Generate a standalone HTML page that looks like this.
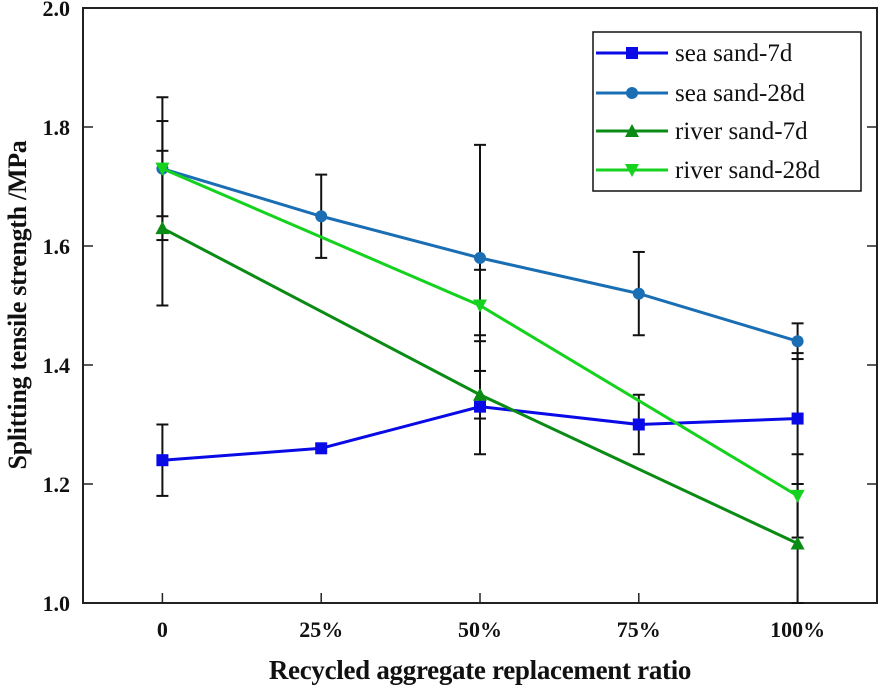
<!DOCTYPE html>
<html><head><meta charset="utf-8"><style>
body{margin:0;background:#fff;}
svg{display:block;font-family:"Liberation Serif",serif;}
</style></head><body>
<svg id="chart" width="880" height="689" xmlns="http://www.w3.org/2000/svg"></svg>
<script>
const categories = ["0","25%","50%","75%","100%"];
const yTicks = [1.0,1.2,1.4,1.6,1.8,2.0];
const seaSand7d = [1.24,1.26,1.33,1.30,1.31];
const seaSand7dErrLo = [1.18,null,1.25,1.25,1.20];
const seaSand7dErrHi = [1.30,null,1.45,1.35,1.42];
const seaSand28d = [1.73,1.65,1.58,1.52,1.44];
const seaSand28dErrLo = [1.61,1.58,1.39,1.45,1.41];
const seaSand28dErrHi = [1.85,1.72,1.77,1.59,1.47];
const riverSand7d = [1.63,null,1.35,null,1.10];
const riverSand7dErrLo = [1.50,null,1.31,null,1.00];
const riverSand7dErrHi = [1.76,null,1.39,null,1.20];
const riverSand28d = [1.73,null,1.50,null,1.18];
const riverSand28dErrLo = [1.65,null,1.44,null,1.11];
const riverSand28dErrHi = [1.81,null,1.56,null,1.25];

const NS="http://www.w3.org/2000/svg";
const svg=document.getElementById('chart');
const L=83,R=877,T=8,B=603;
const xs=i=>L+(i+0.5)*(R-L)/5;
const ys=v=>B-(v-1.0)*(B-T)/1.0;
function mk(t,a,p){const e=document.createElementNS(NS,t);for(const k in a)e.setAttribute(k,a[k]);(p||svg).appendChild(e);return e;}

const frame=mk('rect',{x:L,y:T,width:R-L,height:B-T,fill:'none',stroke:'#222','stroke-width':2});



categories.forEach((c,i)=>{
  const x=xs(i);
  const tk=mk('line',{x1:x,x2:x,y1:B,y2:B-10,stroke:'#222','stroke-width':1.5});
  
  
  const t=mk('text',{x:x,y:B+34,'text-anchor':'middle','font-size':22,'font-weight':'bold',fill:'#111'});
  t.textContent=c;
  
  
});
yTicks.forEach(v=>{
  const y=ys(v);
  const tk=mk('line',{x1:L,x2:L+10,y1:y,y2:y,stroke:'#222','stroke-width':1.5});
  
  
  const tk2=mk('line',{x1:R,x2:R-10,y1:y,y2:y,stroke:'#222','stroke-width':1.5});
  
  
  const t=mk('text',{x:L-13,y:y+8,'text-anchor':'end','font-size':22,'font-weight':'bold',fill:'#111'});
  t.textContent=v.toFixed(1);
  
  
});
const xt=mk('text',{x:(L+R)/2,y:679,'text-anchor':'middle','font-size':27,'font-weight':'bold',fill:'#111','letter-spacing':'-0.3'});
xt.textContent='Recycled aggregate replacement ratio';


const yt=mk('text',{x:0,y:0,transform:'translate(26,305) rotate(-90)','text-anchor':'middle','font-size':26,'font-weight':'bold',fill:'#111','letter-spacing':'-0.3'});
yt.textContent='Splitting tensile strength /MPa';



function marker(type,x,y,color,g){
  let e;
  if(type==='square') e=mk('rect',{x:x-6,y:y-6,width:12,height:12,fill:color},g);
  else if(type==='circle') e=mk('circle',{cx:x,cy:y,r:6,fill:color},g);
  else if(type==='up') e=mk('polygon',{points:`${x},${y-7} ${x-7},${y+6} ${x+7},${y+6}`,fill:color},g);
  else e=mk('polygon',{points:`${x},${y+7} ${x-7},${y-6} ${x+7},${y-6}`,fill:color},g);
  
  
}
const series=[
 {name:'sea-sand-7d',label:'sea sand-7d',vals:seaSand7d,lo:seaSand7dErrLo,hi:seaSand7dErrHi,color:'#0a0ae6',m:'square'},
 {name:'sea-sand-28d',label:'sea sand-28d',vals:seaSand28d,lo:seaSand28dErrLo,hi:seaSand28dErrHi,color:'#1a6eb4',m:'circle'},
 {name:'river-sand-7d',label:'river sand-7d',vals:riverSand7d,lo:riverSand7dErrLo,hi:riverSand7dErrHi,color:'#0a8c14',m:'up'},
 {name:'river-sand-28d',label:'river sand-28d',vals:riverSand28d,lo:riverSand28dErrLo,hi:riverSand28dErrHi,color:'#14d21e',m:'down'}
];
series.forEach(s=>{
  s.lo.forEach((lo,i)=>{
    if(lo==null)return;
    const x=xs(i),y1=ys(lo),y2=ys(s.hi[i]);
    const g=mk('g',{stroke:'#111','stroke-width':2});
    
    
    mk('line',{x1:x,x2:x,y1:y1,y2:y2},g);
    mk('line',{x1:x-6,x2:x+6,y1:y1,y2:y1},g);
    mk('line',{x1:x-6,x2:x+6,y1:y2,y2:y2},g);
  });
});
series.forEach(s=>{
  const g=mk('g',{});
  
  
  const pts=[];
  s.vals.forEach((v,i)=>{if(v!=null)pts.push([xs(i),ys(v)]);});
  const pl=mk('polyline',{points:pts.map(p=>p.join(',')).join(' '),fill:'none',stroke:s.color,'stroke-width':3},g);
  
  
  pts.forEach(p=>marker(s.m,p[0],p[1],s.color,g));
});
const lg=mk('g',{});


mk('rect',{x:593,y:32,width:268,height:159,fill:'#fff',stroke:'#111','stroke-width':1.5},lg);
[53,93,131,170].forEach((y,i)=>{
  const s=series[i];
  const e=mk('g',{},lg);
  
  
  mk('line',{x1:596,x2:668,y1:y,y2:y,stroke:s.color,'stroke-width':3},e);
  marker(s.m,632,y,s.color,e);
  const t=mk('text',{x:675,y:y+8,'font-size':25,fill:'#111'},e);
  t.textContent=s.label;
});
</script>
</body></html>
